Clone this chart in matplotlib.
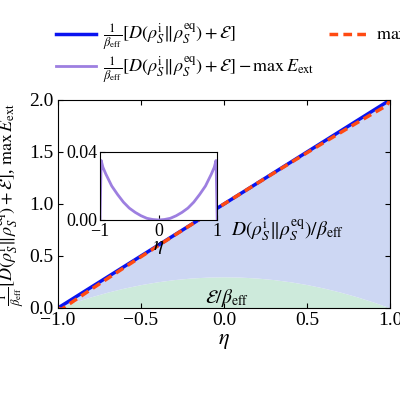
import matplotlib
matplotlib.use("Agg")
import matplotlib.pyplot as plt
import numpy as np

plt.rcParams['font.family'] = 'serif'
plt.rcParams['font.serif'] = ['Liberation Serif', 'DejaVu Serif']
plt.rcParams['mathtext.fontset'] = 'stix'
plt.rcParams['font.size'] = 14

eta = [-1, -0.98, -0.95, -0.9, -0.8, -0.7, -0.6, -0.5, -0.4, -0.3, -0.2, -0.1, 0,
       0.1, 0.2, 0.3, 0.4, 0.5, 0.6, 0.7, 0.8, 0.9, 0.95, 0.98, 1]
total = [0.0, 0.02, 0.05, 0.1, 0.2, 0.3, 0.4, 0.5, 0.6, 0.7, 0.8, 0.9, 1.0,
         1.1, 1.2, 1.3, 1.4, 1.5, 1.6, 1.7, 1.8, 1.9, 1.95, 1.98, 2.0]
diff = [0.0, 0.035, 0.031, 0.027, 0.02, 0.015, 0.0105, 0.007, 0.0045, 0.0025, 0.001, 0.0003, 0.0,
        0.0003, 0.001, 0.0025, 0.0045, 0.007, 0.0105, 0.015, 0.02, 0.027, 0.031, 0.035, 0.0]
energy = [0.0, 0.012, 0.029, 0.057, 0.108, 0.153, 0.192, 0.225, 0.252, 0.273, 0.288, 0.297, 0.30,
          0.297, 0.288, 0.273, 0.252, 0.225, 0.192, 0.153, 0.108, 0.057, 0.029, 0.012, 0.0]

eta = np.array(eta); total = np.array(total); diff = np.array(diff); energy = np.array(energy)
maxE = total - diff

fig = plt.figure(figsize=(4, 4), dpi=100)
ax = fig.add_axes([0.145, 0.23, 0.83, 0.52])
ax.fill_between(eta, 0, energy, color='#cdeadb', lw=0)
ax.fill_between(eta, energy, total, color='#cdd7f3', lw=0)
l1, = ax.plot(eta, total, color='#0a14f0', lw=2.5,
              label=r'$\frac{1}{\beta_{\rm eff}}[D(\rho_S^{\rm i}\Vert\rho_S^{\rm eq})+\mathcal{E}]$')
l2, = ax.plot(eta, maxE, color='#ff4a12', lw=2.5, ls=(0, (2.5, 1.5)),
              label=r'$\max\,E_{\rm ext}$')
l3, = ax.plot([], [], color='#9d7fe0', lw=2,
              label=r'$\frac{1}{\beta_{\rm eff}}[D(\rho_S^{\rm i}\Vert\rho_S^{\rm eq})+\mathcal{E}]-\max\,E_{\rm ext}$')
ax.set_xlim(-1, 1); ax.set_ylim(0, 2)
ax.set_xticks([-1, -0.5, 0, 0.5, 1]); ax.set_yticks([0, 0.5, 1, 1.5, 2])
ax.set_xticklabels(['−1.0', '−0.5', '0.0', '0.5', '1.0'])
ax.set_xlabel(r'$\eta$', fontsize=16, labelpad=2)
ax.set_ylabel(r'$\frac{1}{\beta_{\rm eff}}[D(\rho_S^{\rm i}\Vert\rho_S^{\rm eq})+\mathcal{E}]$, $\max\,E_{\rm ext}$',
              fontsize=13, labelpad=2)
ax.tick_params(direction='in', top=True, right=True, pad=3)
ax.text(0.38, 0.75, r'$D(\rho_S^{\rm i}\Vert\rho_S^{\rm eq})/\beta_{\rm eff}$', ha='center', va='center')
ax.text(0.02, 0.1, r'$\mathcal{E}/\beta_{\rm eff}$', ha='center', va='center')
fig.legend(handles=[l1, l3, l2], loc='upper left', bbox_to_anchor=(0.1, 0.985), ncol=2,
           frameon=False, fontsize=13, handlelength=2.2, columnspacing=0.8, labelspacing=0.1,
           handletextpad=0.4)

ins = fig.add_axes([0.25, 0.45, 0.293, 0.17])
ins.plot(eta, diff, color='#9d7fe0', lw=2)
ins.set_xlim(-1, 1); ins.set_ylim(0, 0.04)
ins.set_xticks([-1, 0, 1]); ins.set_xticklabels(['−1', '0', '1'])
ins.set_yticks([0, 0.04]); ins.set_yticklabels(['0.00', '0.04'])
ins.tick_params(direction='in', pad=2, labelsize=13)
ins.set_xlabel(r'$\eta$', fontsize=15, labelpad=-2)
fig.savefig('out.png', dpi=100)
